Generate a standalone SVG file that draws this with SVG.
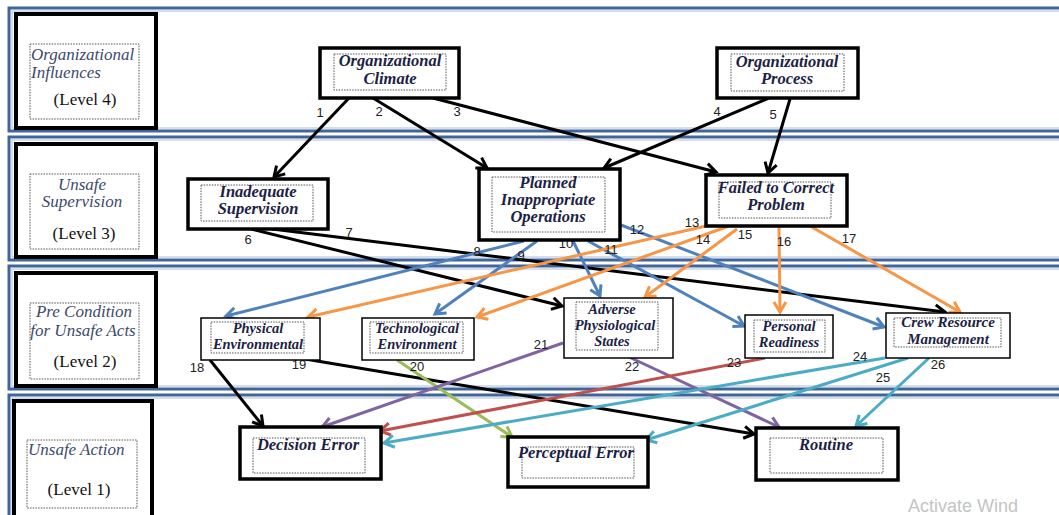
<svg xmlns="http://www.w3.org/2000/svg" width="1059" height="515" viewBox="0 0 1059 515">
<style>
.band{fill:none;stroke:#41659a;stroke-width:3}
.bandin{fill:none;stroke:#a9bedb;stroke-width:1}
.lvl{fill:#fff;stroke:#000;stroke-width:4}
.dot{fill:none;stroke:#555;stroke-width:1;stroke-dasharray:1.5 1.2}
.n3{fill:#fff;stroke:#000;stroke-width:3.5}
.n2{fill:#fff;stroke:#000;stroke-width:1.5}
.lt{font-family:"Liberation Serif",serif;font-style:italic;font-size:17px;fill:#3c4a6e}
.lv{font-family:"Liberation Serif",serif;font-size:17px;fill:#111}
.nt{font-family:"Liberation Serif",serif;font-style:italic;font-weight:bold;font-size:16.5px;fill:#1c2244;text-anchor:middle}
.ns{font-size:14.5px}
.nc{font-size:15px}
.el{font-family:"Liberation Sans",sans-serif;font-size:13px;fill:#222;text-anchor:middle}
.c{fill:none;stroke-width:3}
.k{stroke:#000}.b{stroke:#4f81bd}.o{stroke:#f79646}.g{stroke:#9bbb59}.p{stroke:#8064a2}.r{stroke:#c0504d}.t{stroke:#4bacc6}
</style>
<defs>
<marker id="ak" markerUnits="userSpaceOnUse" markerWidth="16" markerHeight="16" refX="13" refY="8" orient="auto"><path d="M3,2 L13,8 L3,14" fill="none" stroke="#000" stroke-width="3"/></marker>
<marker id="ab" markerUnits="userSpaceOnUse" markerWidth="16" markerHeight="16" refX="13" refY="8" orient="auto"><path d="M3,2 L13,8 L3,14" fill="none" stroke="#4f81bd" stroke-width="3"/></marker>
<marker id="ao" markerUnits="userSpaceOnUse" markerWidth="16" markerHeight="16" refX="13" refY="8" orient="auto"><path d="M3,2 L13,8 L3,14" fill="none" stroke="#f79646" stroke-width="3"/></marker>
<marker id="ag" markerUnits="userSpaceOnUse" markerWidth="16" markerHeight="16" refX="13" refY="8" orient="auto"><path d="M3,2 L13,8 L3,14" fill="none" stroke="#9bbb59" stroke-width="3"/></marker>
<marker id="ap" markerUnits="userSpaceOnUse" markerWidth="16" markerHeight="16" refX="13" refY="8" orient="auto"><path d="M3,2 L13,8 L3,14" fill="none" stroke="#8064a2" stroke-width="3"/></marker>
<marker id="ar" markerUnits="userSpaceOnUse" markerWidth="16" markerHeight="16" refX="13" refY="8" orient="auto"><path d="M3,2 L13,8 L3,14" fill="none" stroke="#c0504d" stroke-width="3"/></marker>
<marker id="at" markerUnits="userSpaceOnUse" markerWidth="16" markerHeight="16" refX="13" refY="8" orient="auto"><path d="M3,2 L13,8 L3,14" fill="none" stroke="#4bacc6" stroke-width="3"/></marker>
</defs>
<rect width="1059" height="515" fill="#fff"/>
<g id="bands">
<rect class="band" x="9" y="8" width="1060" height="123"/><rect class="bandin" x="12" y="11" width="1060" height="117"/>
<rect class="band" x="9" y="137" width="1060" height="123"/><rect class="bandin" x="12" y="140" width="1060" height="117"/>
<rect class="band" x="9" y="266" width="1060" height="123"/><rect class="bandin" x="12" y="269" width="1060" height="117"/>
<rect class="band" x="9" y="395" width="1060" height="130"/><rect class="bandin" x="12" y="398" width="1060" height="130"/>
</g>
<g id="level4">
<rect class="lvl" x="16" y="14" width="140" height="114"/>
<rect class="dot" x="30" y="44" width="109" height="75"/>
<text class="lt" x="31" y="60">Organizational</text>
<text class="lt" x="31" y="78">Influences</text>
<text class="lv" x="85" y="105" text-anchor="middle">(Level 4)</text>
</g>
<g id="level3">
<rect class="lvl" x="16" y="144" width="140" height="113"/>
<rect class="dot" x="30" y="174" width="109" height="75"/>
<text class="lt" x="82" y="190" text-anchor="middle">Unsafe</text>
<text class="lt" x="82" y="207" text-anchor="middle">Supervision</text>
<text class="lv" x="84" y="239" text-anchor="middle">(Level 3)</text>
</g>
<g id="level2">
<rect class="lvl" x="16" y="273" width="140" height="113"/>
<rect class="dot" x="30" y="303" width="109" height="76"/>
<text class="lt" x="84" y="317" text-anchor="middle">Pre Condition</text>
<text class="lt" x="83" y="336" text-anchor="middle">for Unsafe Acts</text>
<text class="lv" x="85" y="367" text-anchor="middle">(Level 2)</text>
</g>
<g id="level1">
<rect class="lvl" x="14" y="401" width="138" height="120"/>
<rect class="dot" x="27" y="440" width="110" height="68"/>
<text class="lt" x="28" y="455">Unsafe Action</text>
<text class="lv" x="79" y="495" text-anchor="middle">(Level 1)</text>
</g>
<g id="connectors">
<path class="c k" d="M349,98 L274,177" marker-end="url(#ak)"/>
<path class="c k" d="M373,98 L487,168" marker-end="url(#ak)"/>
<path class="c k" d="M433,98 L716,172" marker-end="url(#ak)"/>
<path class="c k" d="M769,98 L604,168" marker-end="url(#ak)"/>
<path class="c k" d="M790,99 L768,173" marker-end="url(#ak)"/>
<path class="c k" d="M251,229 L562,306" marker-end="url(#ak)"/>
<path class="c k" d="M272,229 L945,312" marker-end="url(#ak)"/>
<path class="c b" d="M524,241 L226,316" marker-end="url(#ab)"/>
<path class="c b" d="M537,241 L435,314" marker-end="url(#ab)"/>
<path class="c b" d="M573,241 L600,296" marker-end="url(#ab)"/>
<path class="c b" d="M588,241 L744,326" marker-end="url(#ab)"/>
<path class="c b" d="M621,225 L884,327" marker-end="url(#ab)"/>
<path class="c o" d="M706,226 L308,317" marker-end="url(#ao)"/>
<path class="c o" d="M729,226 L477,317" marker-end="url(#ao)"/>
<path class="c o" d="M737,229 L645,297" marker-end="url(#ao)"/>
<path class="c o" d="M779,226 L780,312" marker-end="url(#ao)"/>
<path class="c o" d="M810,226 L960,312" marker-end="url(#ao)"/>
<path class="c k" d="M210,360 L263,426" marker-end="url(#ak)"/>
<path class="c k" d="M305,359 L754,434" marker-end="url(#ak)"/>
<path class="c g" d="M397,360 L512,437" marker-end="url(#ag)"/>
<path class="c p" d="M563,343 L322,427" marker-end="url(#ap)"/>
<path class="c p" d="M629,357 L779,427" marker-end="url(#ap)"/>
<path class="c r" d="M765,358 L380,431" marker-end="url(#ar)"/>
<path class="c t" d="M885,358 L384,443" marker-end="url(#at)"/>
<path class="c t" d="M908,358 L646,440" marker-end="url(#at)"/>
<path class="c t" d="M929,358 L856,426" marker-end="url(#at)"/>
</g>
<g id="edge-labels">
<text class="el" x="320" y="117">1</text>
<text class="el" x="379" y="116">2</text>
<text class="el" x="457" y="116">3</text>
<text class="el" x="717" y="116">4</text>
<text class="el" x="773" y="119">5</text>
<text class="el" x="248" y="244">6</text>
<text class="el" x="349" y="237">7</text>
<text class="el" x="477" y="256">8</text>
<text class="el" x="521" y="260">9</text>
<text class="el" x="566" y="248">10</text>
<text class="el" x="611" y="254">11</text>
<text class="el" x="637" y="234">12</text>
<text class="el" x="692" y="227">13</text>
<text class="el" x="703" y="244">14</text>
<text class="el" x="745" y="239">15</text>
<text class="el" x="784" y="246">16</text>
<text class="el" x="849" y="243">17</text>
<text class="el" x="197" y="372">18</text>
<text class="el" x="299" y="369">19</text>
<text class="el" x="417" y="371">20</text>
<text class="el" x="541" y="349">21</text>
<text class="el" x="632" y="371">22</text>
<text class="el" x="734" y="367">23</text>
<text class="el" x="860" y="361">24</text>
<text class="el" x="883" y="382">25</text>
<text class="el" x="938" y="369">26</text>
</g>
<g id="org-climate">
<rect class="n3" x="320" y="48" width="139" height="50"/>
<rect class="dot" x="334" y="54" width="112" height="36"/>
<text class="nt" x="390" y="66">Organizational</text>
<text class="nt" x="390" y="84">Climate</text>
</g>
<g id="org-process">
<rect class="n3" x="717" y="48" width="141" height="50"/>
<rect class="dot" x="731" y="54" width="113" height="37"/>
<text class="nt" x="787" y="67">Organizational</text>
<text class="nt" x="787" y="84">Process</text>
</g>
<g id="inadequate-supervision">
<rect class="n3" x="188" y="179" width="140" height="50"/>
<rect class="dot" x="201" y="185" width="112" height="36"/>
<text class="nt" x="258" y="197">Inadequate</text>
<text class="nt" x="258" y="214">Supervision</text>
</g>
<g id="planned-operations">
<rect class="n3" x="479" y="169" width="141" height="71"/>
<rect class="dot" x="492" y="177" width="113" height="55"/>
<text class="nt" x="548" y="188">Planned</text>
<text class="nt" x="548" y="205">Inappropriate</text>
<text class="nt" x="548" y="222">Operations</text>
</g>
<g id="failed-correct">
<rect class="n3" x="706" y="175" width="141" height="51"/>
<rect class="dot" x="719" y="182" width="112" height="36"/>
<text class="nt" x="776" y="193">Failed to Correct</text>
<text class="nt" x="776" y="210">Problem</text>
</g>
<g id="physical-env">
<rect class="n2" x="201" y="318" width="119" height="42"/>
<rect class="dot" x="211" y="322" width="93" height="31"/>
<text class="nt ns" x="258" y="333">Physical</text>
<text class="nt ns" x="258" y="349">Environmental</text>
</g>
<g id="tech-env">
<rect class="n2" x="362" y="318" width="112" height="42"/>
<rect class="dot" x="370" y="322" width="93" height="31"/>
<text class="nt ns" x="417" y="333">Technological</text>
<text class="nt ns" x="417" y="349">Environment</text>
</g>
<g id="adverse-states">
<rect class="n2" x="564" y="298" width="109" height="60"/>
<rect class="dot" x="576" y="302" width="82" height="48"/>
<text class="nt ns" x="612" y="314">Adverse</text>
<text class="nt ns" x="615" y="330">Physiological</text>
<text class="nt ns" x="612" y="346">States</text>
</g>
<g id="personal-readiness">
<rect class="n2" x="745" y="315" width="88" height="43"/>
<rect class="dot" x="754" y="320" width="71" height="32"/>
<text class="nt ns" x="789" y="331">Personal</text>
<text class="nt ns" x="789" y="347">Readiness</text>
</g>
<g id="crew-resource">
<rect class="n2" x="886" y="313" width="124" height="45"/>
<rect class="dot" x="894" y="318" width="107" height="29"/>
<text class="nt nc" x="948" y="327">Crew Resource</text>
<text class="nt nc" x="948" y="344">Management</text>
</g>
<g id="decision-error">
<rect class="n3" x="240" y="427" width="141" height="52"/>
<rect class="dot" x="253" y="438" width="112" height="35"/>
<text class="nt" x="308" y="450">Decision Error</text>
</g>
<g id="perceptual-error">
<rect class="n3" x="508" y="437" width="140" height="50"/>
<rect class="dot" x="522" y="447" width="112" height="31"/>
<text class="nt" x="576" y="458">Perceptual Error</text>
</g>
<g id="routine">
<rect class="n3" x="756" y="428" width="142" height="52"/>
<rect class="dot" x="770" y="438" width="113" height="35"/>
<text class="nt" x="826" y="450">Routine</text>
</g>
<text x="908" y="512" font-family="Liberation Sans,sans-serif" font-size="18" fill="#c4c4c4">Activate Wind</text>
</svg>
